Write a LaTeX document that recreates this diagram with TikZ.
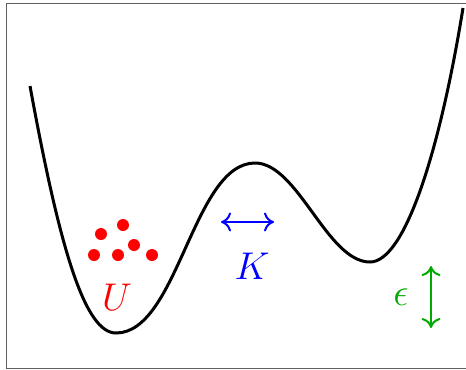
\documentclass[tikz,border=0pt]{standalone}
\usepackage{fix-cm}
\usepackage{amsmath}
\usepackage{tikz}
\usetikzlibrary{arrows,arrows.meta}

\definecolor{epsgreen}{RGB}{0,170,0}
\tikzset{
	bigmath/.style={font=\fontsize{22}{26}\selectfont},
	gap/.style={line width=0.04cm, {To[length=0.2cm,width=0.38cm]}-{To[length=0.2cm,width=0.38cm]}}
}

\begin{document}
\begin{tikzpicture}[x=0.02cm, y=-0.02cm]
		% Frame of the picture
		\useasboundingbox (0,0) rectangle (466,369);
		\draw[gray!75!black, line width=0.02cm] (6,3) rectangle (466,368);
		
		% The double well: left wall, left minimum, barrier, right minimum, right wall
		\draw[line width=0.06cm, line join=round] (30,86)
			.. controls (60,250) and (85,333) .. (116,333)
			.. controls (178,333) and (193,163) .. (255,163)
			.. controls (298,163) and (327,262) .. (370,262)
			.. controls (405,262) and (440,150) .. (463,8);
		
		% Particles in the left well
		\foreach \px/\py in {101/234, 123/225, 94/255, 118/255, 134/245, 152/255}
			\fill[red] (\px,\py) circle (0.12cm);
		\node[bigmath, text=red] (U) at (117,297) {$U$};
		
		% Hopping between the wells
		\coordinate (kleft) at (221,222);
		\coordinate (kright) at (274,222);
		\draw[gap, blue] (kleft) -- (kright);
		\node[bigmath, text=blue] (K) at (252,266) {$K$};
		
		% Energy offset
		\coordinate (etop) at (431,266);
		\coordinate (ebot) at (431,328);
		\draw[gap, epsgreen] (etop) -- (ebot);
		\node[bigmath, text=epsgreen] (eps) at (401,297) {$\epsilon$};
	\end{tikzpicture}
\end{document}
